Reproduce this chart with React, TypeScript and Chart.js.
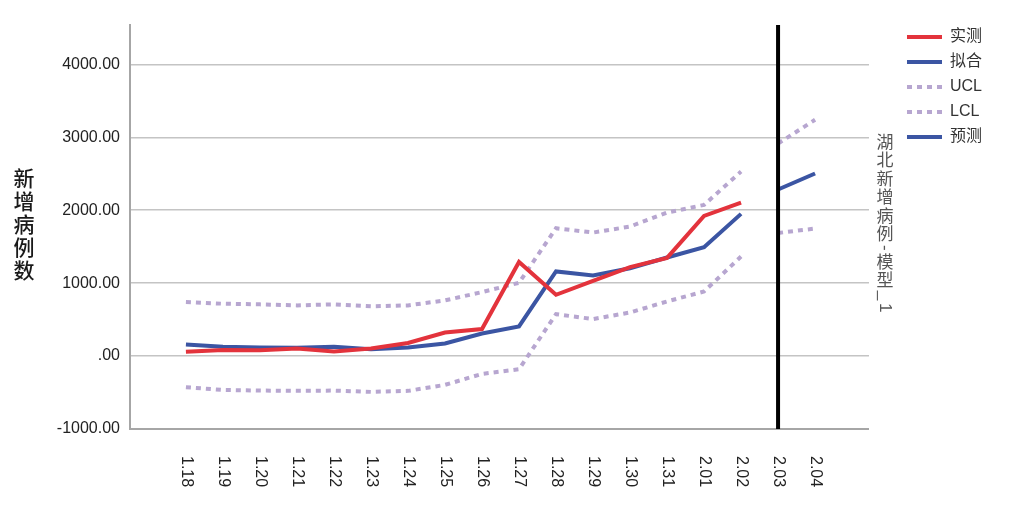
import React, { useEffect, useRef } from 'react';
import { Chart, registerables } from 'chart.js';

Chart.register(...registerables);

const dateLabels = ['1.18', '1.19', '1.20', '1.21', '1.22', '1.23', '1.24', '1.25', '1.26', '1.27', '1.28', '1.29', '1.30', '1.31', '2.01', '2.02', '2.03', '2.04'];
const actual = [59, 82, 80, 105, 62, 105, 180, 323, 371, 1291, 840, 1032, 1220, 1347, 1921, 2103];
const fitted = [159, 127, 118, 113, 127, 95, 118, 173, 309, 406, 1160, 1105, 1205, 1352, 1493, 1950];
const ucl = [741, 718, 709, 695, 709, 682, 695, 764, 877, 1005, 1753, 1694, 1776, 1968, 2073, 2530];
const lcl = [-427, -464, -473, -477, -473, -491, -477, -395, -245, -180, 575, 507, 598, 749, 886, 1365];
const forecast = [2284, 2504];
const forecastUcl = [2915, 3240];
const forecastLcl = [1688, 1749];
const forecastStart = 16;
const yTicks = [-1000, 0, 1000, 2000, 3000, 4000];
const yTitle = '新增病例数';
const sideTitle = '湖北新增病例-模型_1';
const legendNames = ['实测', '拟合', 'UCL', 'LCL', '预测'];

const RED = '#e3333c';
const BLUE = '#3b55a3';
const LAV = '#b7a6d0';
const LATIN = '"Liberation Sans", Arial, "Noto Sans CJK SC", sans-serif';
const CJK = '"Noto Sans CJK SC", sans-serif';

const pts = (arr: number[], start: number) => arr.map((y, i) => ({ x: start + i, y }));

const decorPlugin = {
  id: 'decor',
  afterDatasetsDraw(chart: any) {
    const { ctx, chartArea, scales } = chart;
    const xs = scales.x;
    const xf = xs.getPixelForValue(forecastStart);
    ctx.save();
    ctx.strokeStyle = '#000';
    ctx.lineWidth = 4;
    ctx.beginPath();
    ctx.moveTo(xf, chartArea.top);
    ctx.lineTo(xf, chartArea.bottom);
    ctx.stroke();
    ctx.restore();
  },
  afterDraw(chart: any) {
    const { ctx, chartArea, scales } = chart;
    const xs = scales.x;
    ctx.save();
    // x tick labels, rotated clockwise
    ctx.fillStyle = '#222';
    ctx.font = `16px ${LATIN}`;
    ctx.textAlign = 'left';
    ctx.textBaseline = 'middle';
    dateLabels.forEach((lab, i) => {
      const x = xs.getPixelForValue(i);
      ctx.save();
      ctx.translate(x, chartArea.bottom + 27);
      ctx.rotate(Math.PI / 2);
      ctx.fillText(lab, 0, 0);
      ctx.restore();
    });
    // y title, stacked upright characters
    ctx.fillStyle = '#1a1a1a';
    ctx.font = `500 21px ${CJK}`;
    ctx.textAlign = 'center';
    ctx.textBaseline = 'top';
    const chars = Array.from(yTitle);
    const step = 23;
    const cy = (chartArea.top + chartArea.bottom) / 2;
    const y0 = cy - (chars.length * step) / 2 - 2;
    chars.forEach((c, i) => ctx.fillText(c, 24, y0 + i * step));
    // side title, vertical writing
    ctx.fillStyle = '#555';
    const fs = 17;
    let y = 133;
    const sx = 885;
    Array.from(sideTitle).forEach((c) => {
      if (c.charCodeAt(0) > 0x2e80) {
        ctx.font = `${fs}px ${CJK}`;
        ctx.textAlign = 'center';
        ctx.textBaseline = 'top';
        ctx.fillText(c, sx, y);
        y += fs + 1.5;
      } else {
        ctx.font = `${fs}px ${LATIN}`;
        const w = ctx.measureText(c).width;
        ctx.save();
        ctx.translate(sx, y + 1);
        ctx.rotate(Math.PI / 2);
        ctx.textAlign = 'left';
        ctx.textBaseline = 'middle';
        ctx.fillText(c, 0, 0);
        ctx.restore();
        y += w + 3;
      }
    });
    ctx.restore();
  },
};

export default function App() {
  const ref = useRef<HTMLCanvasElement>(null);
  useEffect(() => {
    const canvas = ref.current;
    if (!canvas) return;
    const line = (label: string, data: any[], color: string, dashed: boolean) => ({
      label,
      data,
      borderColor: color,
      backgroundColor: color,
      borderWidth: 4,
      borderDash: dashed ? [5, 5] : [],
      borderCapStyle: 'butt',
      pointRadius: 0,
      pointHoverRadius: 0,
      pointStyle: 'line',
      tension: 0,
      fill: false,
      xAxisID: 'x',
      yAxisID: 'y',
    });
    const chart = new Chart(canvas, {
      type: 'line',
      data: {
        datasets: [
          line('实测', pts(actual, 0), RED, false),
          line('拟合', pts(fitted, 0), BLUE, false),
          line('UCL', pts(ucl, 0), LAV, true),
          line('LCL', pts(lcl, 0), LAV, true),
          line('预测', pts(forecast, forecastStart), BLUE, false),
          line('_ucl_f', pts(forecastUcl, forecastStart), LAV, true),
          line('_lcl_f', pts(forecastLcl, forecastStart), LAV, true),
        ] as any,
      },
      options: {
        responsive: false,
        animation: false,
        events: [],
        layout: { padding: { top: 20, right: 21, bottom: 0, left: 0 } },
        plugins: {
          title: { display: true, text: '', fullSize: false, padding: 0, font: { size: 5, lineHeight: 1 } },
          tooltip: { enabled: false },
          legend: {
            position: 'right',
            align: 'start',
            labels: {
              usePointStyle: true,
              pointStyleWidth: 35,
              padding: 9,
              color: '#333',
              font: { size: 16, family: LATIN },
              generateLabels: (ch: any) =>
                ch.data.datasets
                  .map((ds: any, i: number) => ({
                    text: ds.label,
                    datasetIndex: i,
                    strokeStyle: ds.borderColor,
                    fillStyle: ds.borderColor,
                    lineWidth: 4,
                    lineDash: ds.borderDash,
                    lineCap: 'butt',
                    pointStyle: 'line',
                    hidden: false,
                    fontColor: '#333',
                  }))
                  .filter((it: any) => legendNames.includes(it.text)),
            },
          },
        },
        scales: {
          x: {
            type: 'linear',
            min: -1.511,
            max: 18.457,
            grid: { display: false },
            border: { display: true, color: '#a6a6a6', width: 2 },
            ticks: { display: false },
            afterBuildTicks: (s: any) => {
              s.ticks = dateLabels.map((_, i) => ({ value: i }));
            },
            afterFit: (s: any) => {
              s.height = 86;
            },
          },
          y: {
            type: 'linear',
            position: 'left',
            min: -1000,
            max: 4540,
            afterBuildTicks: (s: any) => {
              s.ticks = yTicks.map((v) => ({ value: v }));
            },
            ticks: {
              color: '#222',
              padding: 10,
              font: { size: 16, family: LATIN },
              callback: (v: any) => (Number(v) === 0 ? '.00' : Number(v).toFixed(2)),
            },
            grid: { color: '#c4c4c4', lineWidth: 1.5, drawTicks: false },
            border: { color: '#a6a6a6', width: 2 },
            afterFit: (s: any) => {
              s.width = 130;
            },
          },
          y2: {
            type: 'linear',
            position: 'right',
            display: true,
            min: 0,
            max: 1,
            grid: { display: false },
            border: { display: false },
            ticks: { display: false },
            afterFit: (s: any) => {
              s.width = 29;
            },
          },
        },
      } as any,
      plugins: [decorPlugin],
    });
    return () => chart.destroy();
  }, []);
  return (
    <div style={{ position: 'fixed', left: 0, top: 0, width: 1013, height: 515, background: '#fff' }}>
      <canvas ref={ref} width={1013} height={515} style={{ display: 'block' }} />
    </div>
  );
}
